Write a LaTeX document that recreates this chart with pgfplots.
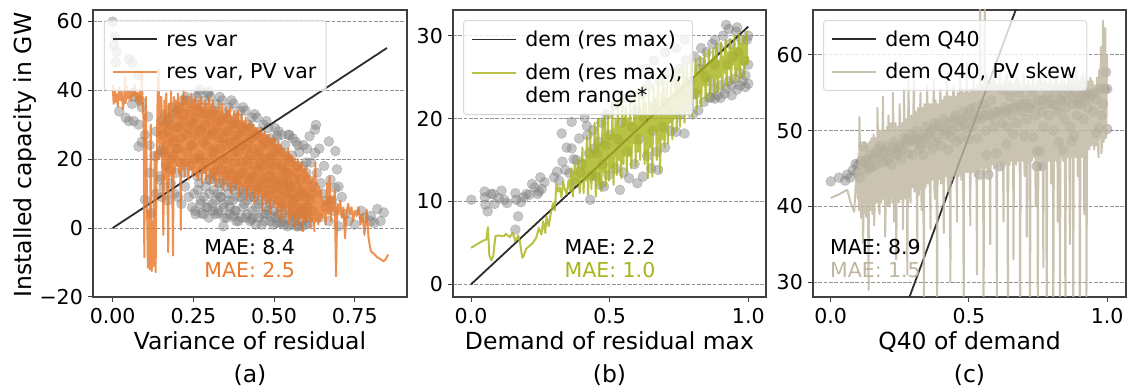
\documentclass[border=0pt]{standalone}
\usepackage{fontspec}
\setmainfont{DejaVu Sans}
\usepackage{pgfplots}
\pgfplotsset{compat=1.18}

\definecolor{resorange}{RGB}{232,121,43}
\definecolor{demgreen}{RGB}{168,180,28}
\definecolor{qbeige}{RGB}{190,182,160}
\definecolor{framegray}{RGB}{64,64,64}
\definecolor{fitblack}{RGB}{45,45,45}

\newcommand{\ticksize}{\fontsize{20.5bp}{23bp}\selectfont}
\newcommand{\labsize}{\fontsize{23.5bp}{28bp}\selectfont}

\pgfplotsset{
  panel/.style={
    scale only axis, anchor=south west, height=287bp,
    clip marker paths=true,
    axis line style={framegray, line width=1.2bp},
    tick align=outside, tick pos=left,
    major tick length=5bp, tick style={framegray, line width=1bp},
    ymajorgrids,
    major grid style={gray!85, line width=0.8bp, dash pattern=on 3.7bp off 1.6bp},
    ticklabel style={font=\ticksize, inner sep=0pt},
    xticklabel style={anchor=north}, xticklabel shift=6bp,
    yticklabel style={anchor=east}, yticklabel shift=5bp,
    legend cell align=left,
    legend image code/.code={\draw[##1, line width=1.8bp] (0bp,0bp) -- (44bp,0bp);},
    legend style={anchor=north west, draw=gray!30, line width=1bp, fill=white,
      fill opacity=0.8, text opacity=1, draw opacity=1, rounded corners=3bp,
      font=\ticksize, inner xsep=8bp, inner ysep=8.5bp, row sep=12bp, column sep=6bp},
  },
  onelinelegend/.style={legend style={cells={anchor=west, text height=15bp, text depth=4bp}}},
  twolinesample/.style={legend image code/.code={\draw[##1, line width=1.8bp] (0bp,11.5bp) -- (44bp,11.5bp);}},
  scat/.style={only marks, mark=*, mark size=5bp, forget plot,
    mark options={fill=gray, draw=gray, fill opacity=0.45, draw opacity=0.45}},
  fitline/.style={fitblack, line width=1.8bp},
  noisy/.style={line width=2bp, line join=round, draw opacity=0.82},
}

\begin{document}
\begin{tikzpicture}
\useasboundingbox (0bp,0bp) rectangle (1133bp,391bp);

% ---------------- (a) variance of residual ----------------
\begin{axis}[panel, onelinelegend, at={(93bp,94bp)}, width=314bp,
  xmin=-0.061, xmax=0.912, ymin=-20, ymax=63.2,
  xtick={0,0.25,0.5,0.75}, xticklabels={0.00,0.25,0.50,0.75},
  ytick={-20,0,20,40,60}, yticklabels={−20,0,20,40,60},
  legend style={at={(0.035,0.965)}}]
\addplot[scat] coordinates {
(0.000,59.8)(0.007,55.5)(0.004,53.0)(0.012,51.0)(0.010,48.0)(0.050,49.0)(0.060,48.0)(0.080,44.4)
(0.020,33.8)(0.050,31.0)(0.080,30.0)(0.080,23.6)(0.115,24.0)(0.110,32.3)(0.130,20.9)(0.115,16.0)
(0.100,8.2)(0.120,4.3)(0.135,10.0)(0.146,15.0)(0.150,22.6)(0.135,28.0)(0.170,31.0)(0.200,34.0)
(0.230,37.0)(0.270,40.1)(0.296,39.5)(0.274,4.3)(0.296,6.0)(0.327,4.3)(0.343,0.5)(0.374,3.5)
(0.430,2.5)(0.490,3.5)(0.520,1.5)(0.570,0.5)(0.610,1.5)(0.660,6.0)(0.710,9.0)(0.720,4.0)
(0.770,5.0)(0.800,3.5)(0.810,1.5)(0.800,2.0)(0.700,0.5)(0.630,29.9)(0.627,28.5)(0.627,21.8)
(0.640,23.0)(0.690,22.3)(0.670,25.1)(0.610,26.6)(0.575,24.0)(0.545,27.0)(0.510,26.6)(0.600,16.0)
(0.550,12.0)(0.690,11.6)(0.700,12.0)(0.060,36.0)(0.070,38.0)(0.085,37.0)(0.090,35.0)(0.065,31.0)
(0.040,32.0)(0.090,25.0)(0.100,27.0)(0.620,5.0)(0.640,3.0)(0.650,10.0)(0.670,2.0)(0.680,8.0)
(0.730,2.0)(0.750,1.0)(0.780,3.0)(0.830,2.0)(0.840,4.5)(0.820,5.5)
(0.150,31)(0.154,22)(0.147,14)(0.152,9)(0.161,30)(0.165,18)(0.158,12)(0.163,33)
(0.172,28)(0.176,17)(0.169,8)(0.174,32)(0.183,35)(0.187,21)(0.180,13)(0.185,26)
(0.194,33)(0.198,23)(0.191,10)(0.196,16)(0.205,29)(0.209,19)(0.202,9)(0.207,35)
(0.216,31)(0.220,16)(0.213,7)(0.218,37)(0.227,38)(0.231,22)(0.224,12)(0.229,27)
(0.238,34)(0.242,24)(0.235,9)(0.240,18)(0.249,30)(0.253,20)(0.246,6)(0.251,36)
(0.258,32)(0.262,15)(0.255,5)(0.260,38)(0.267,39)(0.271,21)(0.264,11)(0.269,28)
(0.276,35)(0.280,25)(0.273,8)(0.278,17)(0.285,30)(0.289,19)(0.282,4)(0.287,37)
(0.294,33)(0.298,14)(0.291,6)(0.296,39)(0.303,38)(0.307,22)(0.300,10)(0.305,27)
(0.312,34)(0.316,23)(0.309,7)(0.314,16)(0.321,29)(0.325,18)(0.318,4)(0.323,36)
(0.330,31)(0.334,13)(0.327,5)(0.332,38)(0.339,37)(0.343,20)(0.336,9)(0.341,26)
(0.348,33)(0.352,24)(0.345,6)(0.350,15)(0.357,28)(0.361,17)(0.354,3)(0.359,35)
(0.366,30)(0.370,12)(0.363,4)(0.368,37)(0.375,36)(0.379,19)(0.372,8)(0.377,25)
(0.384,32)(0.388,22)(0.381,5)(0.386,14)(0.393,27)(0.397,16)(0.390,2)(0.395,34)
(0.402,29)(0.406,11)(0.399,3)(0.404,35)(0.411,34)(0.415,18)(0.408,7)(0.413,23)
(0.420,30)(0.424,21)(0.417,4)(0.422,13)(0.429,26)(0.433,15)(0.426,2)(0.431,32)
(0.438,27)(0.442,10)(0.435,3)(0.440,33)(0.447,32)(0.451,17)(0.444,6)(0.449,21)
(0.456,28)(0.460,19)(0.453,3)(0.458,12)(0.465,24)(0.469,14)(0.462,1)(0.467,30)
(0.474,25)(0.478,9)(0.471,2)(0.476,31)(0.483,29)(0.487,15)(0.480,5)(0.485,20)
(0.492,26)(0.496,18)(0.489,2)(0.494,11)(0.501,22)(0.505,13)(0.498,1)(0.503,29)
(0.512,23)(0.516,8)(0.509,1.5)(0.514,28)(0.523,27)(0.527,14)(0.520,4)(0.525,18)
(0.534,24)(0.538,16)(0.531,1)(0.536,10)(0.545,20)(0.549,12)(0.542,0.5)(0.547,27)
(0.556,21)(0.560,7)(0.553,1)(0.558,26)(0.567,25)(0.571,12)(0.564,3)(0.569,16)
(0.578,22)(0.582,14)(0.575,0.5)(0.580,9)(0.589,18)(0.593,10)(0.586,0.5)(0.591,24)
(0.600,19)(0.604,6)(0.597,1)(0.602,23)
(0.252,10)(0.257,4)(0.268,13)(0.272,7)(0.283,9)(0.288,12)(0.298,3)(0.302,14)
(0.313,11)(0.318,8)(0.328,13)(0.333,9)(0.343,7)(0.348,12)(0.358,10)(0.363,6)
(0.373,13)(0.378,5)(0.388,9)(0.392,12)(0.403,6)(0.408,10)(0.418,8)(0.423,11)
(0.433,5)(0.438,9)(0.448,12)(0.453,7)(0.463,4)(0.468,10)(0.478,6)(0.483,11)
(0.493,8)(0.498,5)(0.508,10)(0.513,4)(0.523,7)(0.528,2)(0.538,6)(0.543,9)
(0.553,4)(0.558,8)(0.568,3)(0.573,6)(0.583,5)(0.588,2)(0.598,4)
(0.305,16)(0.311,5)(0.319,15)(0.326,10)(0.337,17)(0.346,3)(0.352,14)(0.361,8)
(0.369,16)(0.376,11)(0.383,2)(0.389,15)(0.398,9)(0.405,16)(0.412,3)(0.421,14)
(0.428,9)(0.436,15)(0.443,1)(0.450,13)(0.459,8)(0.466,15)(0.473,4)(0.481,13)
(0.488,7)(0.495,14)(0.504,3)(0.511,12)(0.518,6)(0.526,11)(0.533,3)(0.541,13)
(0.548,5)(0.555,10)(0.562,2)(0.570,9)(0.577,4)(0.585,11)(0.592,6)(0.599,9)
(0.606,3)(0.612,8)(0.618,12)(0.605,14)(0.615,19)(0.622,10)(0.633,16)(0.645,13)
(0.655,18)(0.662,8)(0.675,14)(0.685,5)(0.695,17)
(0.156,27)(0.166,24)(0.178,30)(0.189,25)(0.199,29)(0.211,26)(0.221,33)(0.233,29)
(0.244,31)(0.255,27)(0.265,34)(0.275,29)(0.284,33)(0.292,27)(0.301,31)(0.310,28)
(0.319,33)(0.328,26)(0.337,31)(0.346,28)(0.355,32)(0.364,25)(0.373,30)(0.382,27)
(0.391,30)(0.400,24)(0.409,28)(0.418,25)(0.427,29)(0.436,23)(0.445,27)(0.454,22)
(0.463,26)(0.472,20)(0.481,24)(0.490,21)(0.499,25)(0.508,19)(0.517,22)(0.526,17)
(0.535,21)(0.544,16)(0.553,19)(0.562,14)(0.571,18)
(0.160,22)(0.182,20)(0.203,23)(0.225,19)(0.247,24)(0.268,20)(0.290,24)(0.312,21)
(0.333,23)(0.355,20)(0.377,22)(0.398,19)(0.420,20)(0.441,18)(0.463,18)(0.485,17)
(0.506,15)(0.528,13)
};
\addplot[fitline] coordinates {(0,0) (0.85,52.2)};
\addlegendentry{res var}
\addplot[noisy, resorange] coordinates {
(0.000,41.5)(0.003,36.0)(0.006,40.2)(0.009,36.5)(0.012,38.8)(0.016,35.2)(0.020,40.8)(0.024,37.0)
(0.028,39.5)(0.032,34.5)(0.036,38.0)(0.038,44.0)(0.040,36.2)(0.044,41.0)(0.048,37.5)(0.052,39.8)
(0.056,36.8)(0.060,40.5)(0.064,38.2)(0.068,41.5)(0.072,37.0)(0.076,39.2)(0.080,35.5)(0.084,40.0)
(0.088,36.3)(0.090,45.0)(0.092,38.5)
(0.096,30.0)(0.098,-8.5)(0.100,24.0)(0.103,38.0)(0.106,10.0)(0.109,-11.5)(0.112,5.0)(0.115,-12.0)
(0.118,30.0)(0.121,-12.5)(0.124,2.0)(0.127,-11.0)(0.130,22.0)(0.133,-12.8)(0.136,15.0)(0.139,37.0)
(0.142,46.0)(0.145,20.0)(0.148,38.0)
(0.151,38)(0.154,15)(0.157,-2)(0.160,37)(0.163,14)(0.166,39)(0.169,17)(0.172,-7)(0.175,36)
(0.178,15)(0.181,40)(0.184,17)(0.187,-8)(0.190,38)(0.193,16)(0.196,37)(0.199,18)
(0.202,39)(0.205,16)(0.208,36)(0.211,-0.5)(0.214,38)(0.217,17)(0.220,40)(0.223,15)(0.226,37)
(0.229,18)(0.232,38)(0.235,14)(0.238,36)(0.241,17)(0.244,39)(0.247,15)(0.250,37)
(0.253,16)(0.256,38)(0.259,15)(0.262,36)(0.265,14)(0.268,37)(0.271,17)(0.274,38)(0.277,13)
(0.280,35)(0.283,16)(0.286,37)(0.289,14)(0.292,36)(0.295,17)(0.298,38)(0.301,13)
(0.304,36)(0.307,15)(0.310,37)(0.313,14)(0.316,35)(0.319,12)(0.322,34)(0.325,16)(0.328,36)
(0.331,13)(0.334,35)(0.337,15)(0.340,36)(0.343,11)(0.346,33)(0.349,14)
(0.352,35)(0.355,12)(0.358,34)(0.361,14)(0.364,35)(0.367,10)(0.370,32)(0.373,13)(0.376,34)
(0.379,11)(0.382,33)(0.385,13)(0.388,34)(0.391,9)(0.394,31)(0.397,12)(0.400,33)
(0.403,10)(0.406,31)(0.409,12)(0.412,32)(0.415,8)(0.418,30)(0.421,11)(0.424,31)(0.427,9)
(0.430,30)(0.433,11)(0.436,30)(0.439,7)(0.442,29)(0.445,10)(0.448,29)
(0.451,8)(0.454,28)(0.457,10)(0.460,29)(0.463,5)(0.466,27)(0.469,9)(0.472,28)(0.475,7)
(0.478,27)(0.481,8)(0.484,27)(0.487,4)(0.490,26)(0.493,8)(0.496,26)(0.499,6)
(0.502,26)(0.505,7)(0.508,24)(0.511,3)(0.514,25)(0.517,6)(0.520,24)(0.523,2)(0.526,23)
(0.529,5)(0.532,23)(0.535,3)(0.538,22)(0.541,6)(0.544,23)(0.547,1)(0.550,21)
(0.553,3)(0.556,21)(0.559,4)(0.562,20)(0.565,0)(0.568,19)(0.571,3)(0.574,20)(0.577,1)
(0.580,18)(0.583,3)(0.586,19)(0.589,-1)(0.592,17)(0.595,2)(0.598,18)
(0.601,2)(0.604,16)(0.607,3)(0.610,15)(0.613,0)(0.616,14)(0.619,2)(0.622,15)(0.625,-1)
(0.628,19)(0.631,2)(0.634,13)(0.637,1)(0.640,12)(0.643,2)(0.646,11)(0.650,3)
(0.655,8)(0.660,1)(0.664,13)(0.668,4)(0.672,15)(0.676,2)(0.680,9)(0.684,5)(0.688,11)
(0.692,-14)(0.696,7)(0.700,4)(0.705,8)(0.710,3)(0.715,6)(0.720,-3)(0.725,5)(0.730,7)
(0.735,4)(0.740,6)(0.745,2)(0.750,5)(0.756,3.5)(0.762,6)(0.768,1)(0.774,4)(0.780,-2)
(0.787,5.3)(0.793,-3)(0.800,-6.8)(0.810,-7.5)(0.820,-8.5)(0.830,-9)(0.839,-9.7)(0.846,-9)(0.854,-7.7)
};
\addlegendentry{res var, PV var}
\node[anchor=west, inner sep=0pt, font=\ticksize, text=black] at (rel axis cs:0.354,0.175) {MAE: 8.4};
\node[anchor=west, inner sep=0pt, font=\ticksize, text=resorange] at (rel axis cs:0.354,0.094) {MAE: 2.5};
\end{axis}

% ---------------- (b) demand of residual max ----------------
\begin{axis}[panel, at={(453bp,94bp)}, width=313bp,
  xmin=-0.065, xmax=1.064, ymin=-1.53, ymax=33.1,
  xtick={0,0.5,1}, xticklabels={0.0,0.5,1.0},
  ytick={0,10,20,30}, yticklabels={0,10,20,30},
  legend style={at={(0.032,0.965)}, cells={anchor=west, align=left}}]
\addplot[scat] coordinates {
(0.001,10.2)(0.049,11.2)(0.050,10.5)(0.052,9.6)(0.060,8.8)(0.072,10.9)(0.080,10.9)(0.085,9.7)
(0.110,11.3)(0.120,10.2)(0.160,11.0)(0.163,10.2)(0.180,9.9)(0.190,10.5)(0.200,10.9)(0.220,12.1)
(0.230,11.7)(0.240,10.9)(0.170,8.2)(0.160,6.6)(0.250,12.9)(0.130,9.8)(0.100,10.4)(0.245,11.2)
(0.255,11.5)(0.265,12.3)(0.210,10.8)
(0.300,12.9)(0.310,13.6)(0.318,12.5)(0.327,18.2)(0.330,14.8)(0.340,13.8)(0.345,16.5)(0.355,13.4)
(0.363,19.6)(0.363,16.4)(0.370,15.1)(0.375,12.2)(0.380,15.0)(0.390,17.6)(0.395,13.5)(0.400,14.5)
(0.410,20.1)(0.418,19.1)(0.420,18.0)(0.425,15.8)(0.430,10.2)(0.435,13.1)(0.440,18.6)(0.445,16.4)
(0.450,13.0)(0.455,15.8)(0.460,17.2)(0.465,12.0)(0.470,19.5)(0.475,14.5)(0.480,11.8)(0.485,16.8)
(0.490,20.5)(0.495,13.2)(0.500,18.0)
(0.520,21.5)(0.520,14.0)(0.530,17.5)(0.537,11.4)(0.545,19.5)(0.550,13.5)(0.560,22.5)(0.565,16.0)
(0.570,12.8)(0.580,19.0)(0.590,14.5)(0.595,21.0)(0.600,12.2)(0.605,17.5)(0.615,23.0)(0.620,13.0)
(0.625,20.0)(0.635,15.5)(0.640,24.0)(0.650,14.0)(0.655,18.5)(0.660,21.5)(0.670,16.0)(0.675,13.8)
(0.680,24.5)(0.690,19.0)(0.700,16.5)(0.705,22.0)(0.710,25.5)(0.720,18.5)(0.725,21.0)(0.735,24.5)
(0.740,18.4)(0.750,26.0)(0.755,20.5)(0.760,23.0)(0.770,18.2)(0.775,27.0)(0.780,21.5)(0.790,24.5)
(0.800,20.5)(0.805,27.5)(0.810,23.0)(0.820,21.0)(0.825,26.0)(0.830,28.5)(0.840,22.0)(0.845,25.0)
(0.850,28.0)(0.860,24.5)(0.865,22.5)(0.870,29.0)(0.875,23.5)(0.880,26.5)(0.890,22.8)(0.895,28.5)
(0.900,24.0)(0.910,30.0)(0.915,23.0)(0.920,31.3)(0.925,26.5)(0.930,24.5)(0.935,29.0)(0.940,22.8)
(0.945,27.5)(0.950,24.8)(0.955,30.5)(0.960,23.5)(0.965,28.0)(0.970,25.5)(0.975,29.5)(0.980,24.5)
(0.985,27.0)(0.990,25.2)(0.995,29.5)(1.000,24.2)(1.000,26.5)(1.000,30.0)(0.930,30.8)(0.960,31.0)
(0.880,29.5)(0.830,26.8)(0.860,22.6)(0.880,22.4)(0.900,22.5)(0.920,23.6)(0.940,24.0)(0.970,24.0)
(0.990,23.8)(0.660,27.0)(0.700,28.0)(0.740,28.5)(0.770,29.5)(0.630,26.0)
};
\addplot[fitline] coordinates {(0,0) (1,31.1)};
\addlegendentry{dem (res max)}
\addplot[noisy, demgreen, twolinesample] coordinates {
(0.000,4.4)(0.020,4.8)(0.040,5.2)(0.055,5.4)(0.061,6.9)(0.066,3.5)(0.073,2.9)(0.080,3.4)
(0.088,5.8)(0.097,5.9)(0.120,5.8)(0.125,6.1)(0.140,5.7)(0.150,6.2)(0.160,5.2)(0.170,5.9)
(0.177,5.0)(0.185,3.2)(0.190,3.4)(0.199,4.3)(0.210,4.6)(0.223,5.0)(0.235,5.6)(0.245,6.8)
(0.254,6.0)(0.260,7.6)(0.268,6.2)(0.272,8.2)(0.280,7.0)(0.288,8.6)(0.296,9.8)(0.302,8.9)
(0.308,12.1)(0.314,11.2)(0.320,11.7)(0.326,10.5)(0.332,12.4)(0.338,11.5)(0.345,10.9)(0.352,12.6)
(0.358,11.2)(0.362,14.0)(0.367,10.6)(0.374,14.5)(0.380,12.0)(0.386,15.2)(0.392,11.0)(0.398,14.0)
(0.402,16.5)(0.406,11.0)(0.410,15.0)(0.414,12.5)(0.418,17.8)(0.422,10.8)(0.426,14.2)(0.430,18.5)
(0.434,11.5)(0.438,16.0)(0.442,12.8)(0.446,19.5)(0.450,10.6)(0.454,15.5)(0.458,20.0)(0.462,12.0)
(0.466,17.0)(0.470,11.2)(0.474,19.8)(0.478,13.5)(0.482,21.0)(0.486,11.8)(0.490,16.5)(0.494,20.5)
(0.498,12.5)(0.502,18.0)(0.506,14.0)(0.510,21.8)(0.514,12.0)(0.518,17.5)(0.522,20.0)(0.526,13.2)
(0.530,22.0)(0.534,15.0)(0.538,19.0)(0.542,12.8)(0.546,22.5)(0.550,14.5)(0.554,18.5)(0.558,21.5)
(0.562,13.5)(0.566,20.0)(0.570,15.5)(0.574,23.0)(0.578,14.0)(0.582,19.5)(0.586,17.0)(0.590,23.2)
(0.594,14.2)(0.598,20.5)(0.602,16.0)(0.606,23.5)(0.610,15.0)(0.614,21.0)(0.618,18.0)(0.622,24.0)
(0.626,14.5)(0.630,22.0)(0.634,17.5)(0.638,12.8)(0.642,23.5)(0.646,16.5)(0.650,21.5)(0.654,13.0)
(0.658,24.0)(0.662,18.5)(0.666,22.5)(0.670,15.0)(0.674,24.5)(0.678,19.0)(0.682,13.5)(0.686,23.0)
(0.690,17.5)(0.694,25.0)(0.698,16.5)(0.702,21.0)(0.706,24.5)(0.710,17.0)(0.714,22.5)(0.718,19.5)
(0.722,25.2)(0.726,17.5)(0.730,23.0)(0.734,20.0)(0.738,25.5)(0.742,18.5)(0.746,22.5)(0.750,26.0)
(0.754,19.0)(0.758,24.0)(0.762,21.0)(0.766,26.2)(0.770,19.5)(0.774,23.5)(0.778,26.5)(0.782,20.5)
(0.786,24.5)(0.790,22.0)(0.794,27.0)(0.798,20.2)(0.802,25.0)(0.806,22.5)(0.810,27.2)(0.814,21.0)
(0.818,25.5)(0.822,23.0)(0.826,27.5)(0.830,21.5)(0.834,26.0)(0.838,24.0)(0.842,28.0)(0.846,22.0)
(0.850,26.5)(0.854,24.5)(0.858,28.3)(0.862,22.5)(0.866,27.0)(0.870,25.0)(0.874,28.5)(0.878,23.0)
(0.882,26.5)(0.886,29.0)(0.890,23.2)(0.894,27.0)(0.898,25.0)(0.902,29.2)(0.906,23.5)(0.910,27.5)
(0.914,25.5)(0.918,29.5)(0.922,24.0)(0.926,28.0)(0.930,26.0)(0.934,29.6)(0.938,24.2)(0.942,28.5)
(0.946,26.5)(0.950,30.0)(0.954,24.5)(0.958,28.5)(0.962,26.0)(0.966,30.2)(0.970,24.8)(0.974,29.0)
(0.978,26.5)(0.982,30.0)(0.986,25.0)(0.990,28.0)(0.994,30.5)(0.997,26.5)(1.000,27.5)
};
\addlegendentry{dem (res max),\\dem range*}
\node[anchor=west, inner sep=0pt, font=\ticksize, text=black] at (rel axis cs:0.356,0.175) {MAE: 2.2};
\node[anchor=west, inner sep=0pt, font=\ticksize, text=demgreen] at (rel axis cs:0.356,0.094) {MAE: 1.0};
\end{axis}

% ---------------- (c) Q40 of demand ----------------
\begin{axis}[panel, onelinelegend, at={(813bp,94bp)}, width=313bp,
  xmin=-0.064, xmax=1.068, ymin=28.06, ymax=65.9,
  xtick={0,0.5,1}, xticklabels={0.0,0.5,1.0},
  ytick={30,40,50,60}, yticklabels={30,40,50,60},
  legend style={at={(0.032,0.965)}}]
\addplot[scat] coordinates {
(0.000,43.3)(0.052,43.4)(0.060,44.2)(0.070,43.8)(0.080,44.8)(0.094,44.5)(0.100,45.5)(0.105,43.8)
(0.110,46.0)(0.118,47.9)(0.125,44.8)(0.130,46.2)(0.142,46.8)(0.150,45.2)(0.160,47.0)(0.165,45.5)
(0.175,46.5)(0.180,48.0)(0.190,45.8)(0.200,47.9)(0.205,46.0)(0.215,47.3)(0.220,45.5)(0.230,48.5)
(0.240,46.8)(0.250,48.0)(0.255,46.2)(0.265,49.0)(0.270,48.3)(0.280,47.0)(0.290,49.5)(0.295,46.8)
(0.305,48.5)(0.310,50.0)(0.320,47.5)(0.330,49.2)(0.335,46.8)(0.345,50.5)(0.350,48.2)(0.360,49.8)
(0.370,47.5)(0.375,51.0)(0.385,49.0)(0.390,50.8)(0.400,48.0)(0.410,51.5)(0.415,49.5)(0.425,47.5)
(0.430,51.0)(0.440,50.0)(0.450,52.0)(0.455,48.5)(0.465,51.2)(0.470,49.0)(0.480,52.5)(0.490,50.2)
(0.500,48.8)(0.505,52.8)(0.515,50.5)(0.520,53.0)(0.530,49.0)(0.540,44.2)(0.545,51.5)(0.550,53.5)
(0.560,50.0)(0.564,46.8)(0.570,44.2)(0.575,52.0)(0.580,54.0)(0.590,50.5)(0.600,47.0)(0.605,52.5)
(0.612,45.3)(0.620,51.0)(0.625,55.3)(0.630,53.0)(0.636,48.2)(0.640,50.5)(0.650,54.5)(0.655,52.0)
(0.660,49.5)(0.670,53.5)(0.675,51.0)(0.680,55.0)(0.690,52.5)(0.700,49.3)(0.705,54.0)(0.710,51.5)
(0.720,53.0)(0.730,55.0)(0.733,49.1)(0.740,52.0)(0.745,47.3)(0.745,45.3)(0.750,54.0)(0.757,47.3)
(0.763,45.3)(0.765,52.5)(0.770,50.5)(0.780,54.5)(0.790,52.0)(0.800,53.5)(0.805,50.0)(0.810,55.0)
(0.820,52.5)(0.825,48.5)(0.830,54.0)(0.840,47.5)(0.840,54.6)(0.845,51.5)(0.850,53.0)(0.860,55.5)
(0.865,50.5)(0.870,48.6)(0.875,53.5)(0.880,49.3)(0.885,55.0)(0.890,52.0)(0.900,54.0)(0.910,54.6)
(0.915,51.5)(0.920,55.0)(0.930,53.0)(0.945,54.8)(0.950,52.5)(0.960,54.1)(0.960,49.7)(0.970,50.4)
(0.975,55.5)(0.980,52.0)(0.990,55.5)(0.995,57.7)(1.000,55.5)(1.000,50.2)(0.985,53.5)
(0.120,45.8)(0.140,45.0)(0.170,47.5)(0.210,46.3)(0.235,47.0)(0.260,47.5)(0.285,48.6)(0.315,48.8)
(0.340,49.0)(0.365,50.2)(0.380,48.5)(0.420,50.2)(0.460,50.5)(0.475,51.5)(0.510,51.5)(0.535,52.0)
(0.565,52.8)(0.585,51.8)(0.615,52.2)(0.645,52.8)(0.685,53.2)(0.715,53.0)(0.755,53.2)(0.785,53.5)
(0.815,53.2)(0.855,54.0)(0.895,53.5)(0.935,54.2)
(0.030,43.8)(0.090,45.6)(0.135,46.0)(0.155,46.5)(0.185,46.8)(0.195,47.2)(0.225,47.8)(0.245,47.5)
(0.275,48.8)(0.300,49.0)(0.325,48.0)(0.355,49.5)(0.385,50.5)(0.405,50.0)(0.435,49.2)(0.445,51.5)
(0.485,50.8)(0.495,52.0)(0.525,51.5)(0.555,52.0)(0.595,52.5)(0.635,52.5)(0.665,53.0)(0.695,53.5)
(0.725,53.5)(0.765,54.0)(0.795,54.0)(0.835,54.0)(0.875,54.5)(0.905,53.5)(0.925,54.5)(0.955,55.0)
};
\addplot[fitline] coordinates {(0,0) (1,98.5)};
\addlegendentry{dem Q40}
\addplot[noisy, qbeige] coordinates {
(0.000,41.1)(0.030,41.6)(0.060,42.2)(0.072,40.5)(0.085,39.3)(0.090,42.5)(0.094,45.0)(0.098,41.0)
(0.100,44.0)(0.102,39.5)(0.104,51.8)(0.106,47.5)(0.108,40.0)(0.110,38.5)(0.112,45.0)(0.114,48.0)
(0.117,35.2)(0.119,40.0)(0.121,46.0)(0.123,48.5)(0.125,42.0)(0.127,39.0)(0.129,38.6)(0.131,48.0)
(0.133,45.5)(0.135,40.5)(0.137,29.0)(0.139,48.5)(0.141,44.5)(0.143,39.5)(0.145,47.5)(0.147,49.0)
(0.149,41.0)(0.151,39.0)(0.153,46.5)(0.155,49.5)(0.157,37.5)(0.159,40.0)(0.161,48.5)(0.163,49.0)
(0.165,43.5)(0.167,40.5)(0.169,53.0)(0.171,49.5)(0.173,44.0)(0.175,39.5)(0.177,39.0)(0.179,50.0)
(0.181,47.0)(0.183,40.5)(0.185,42.5)(0.187,49.5)(0.189,54.5)(0.191,41.0)(0.193,45.0)(0.195,50.0)
(0.197,36.0)(0.199,40.5)(0.201,47.5)(0.203,50.5)(0.205,43.0)(0.207,40.0)(0.209,52.0)(0.211,50.0)
(0.213,40.0)(0.215,41.5)(0.217,48.0)(0.219,51.0)(0.221,44.0)(0.223,40.5)(0.225,55.0)(0.227,50.5)
(0.229,38.0)(0.231,41.0)(0.233,47.0)(0.235,51.0)(0.237,33.0)(0.239,41.5)(0.241,49.0)(0.243,50.5)
(0.245,45.0)(0.247,40.5)(0.249,53.5)(0.251,51.5)(0.253,41.0)(0.255,41.0)(0.257,48.5)(0.259,51.0)
(0.261,37.0)(0.263,42.0)(0.265,55.5)(0.267,51.5)(0.269,44.5)(0.271,41.0)(0.273,50.0)(0.275,51.5)
(0.277,31.0)(0.279,42.0)(0.281,57.0)(0.283,52.0)(0.285,46.0)(0.287,41.5)(0.289,40.5)(0.291,52.0)
(0.293,51.0)(0.295,42.5)(0.297,45.5)(0.299,52.5)(0.301,57.5)(0.303,42.0)(0.305,42.0)(0.307,52.5)
(0.309,49.5)(0.311,42.5)(0.313,34.0)(0.315,53.0)(0.317,50.5)(0.319,41.5)(0.321,46.0)(0.323,52.5)
(0.325,55.0)(0.327,43.0)(0.329,39.5)(0.331,53.0)(0.333,49.0)(0.335,42.0)(0.337,28.0)(0.339,53.5)
(0.341,51.5)(0.343,42.5)(0.345,46.5)(0.347,53.0)(0.349,56.0)(0.351,43.0)(0.353,43.0)(0.355,53.5)
(0.357,50.0)(0.359,42.0)(0.361,37.0)(0.363,53.5)(0.365,52.0)(0.367,43.5)(0.369,47.0)(0.371,53.0)
(0.373,56.5)(0.375,42.5)(0.377,41.0)(0.379,54.0)(0.381,50.5)(0.383,43.0)(0.385,25.0)(0.387,53.5)
(0.389,52.0)(0.391,43.5)(0.393,47.5)(0.395,54.0)(0.397,55.5)(0.399,43.0)(0.401,44.0)(0.403,54.0)
(0.405,51.0)(0.407,43.5)(0.409,36.5)(0.411,54.5)(0.413,53.0)(0.415,44.0)(0.417,48.0)(0.419,54.0)
(0.421,57.0)(0.423,43.5)(0.425,42.0)(0.427,54.5)(0.429,51.5)(0.431,44.0)(0.433,30.0)(0.435,54.5)
(0.437,53.5)(0.439,43.5)(0.441,48.5)(0.443,55.0)(0.445,56.0)(0.447,44.0)(0.449,45.0)(0.451,54.5)
(0.453,52.0)(0.455,44.5)(0.457,38.0)(0.459,55.0)(0.461,54.0)(0.463,44.0)(0.465,49.0)(0.467,55.0)
(0.469,57.5)(0.471,44.5)(0.473,43.5)(0.475,55.5)(0.477,52.5)(0.479,44.0)(0.481,26.0)(0.483,55.0)
(0.485,54.0)(0.487,44.5)(0.489,49.5)(0.491,55.5)(0.493,59.0)(0.495,44.5)(0.497,45.5)(0.499,55.0)
(0.501,52.5)(0.503,45.0)(0.505,37.5)(0.507,55.5)(0.509,54.5)(0.511,44.5)(0.513,50.0)(0.515,55.0)
(0.517,57.0)(0.519,45.0)(0.521,44.0)(0.523,55.5)(0.525,53.0)(0.527,45.0)(0.529,31.0)(0.531,56.0)
(0.533,55.0)(0.535,44.5)(0.537,50.0)(0.539,55.5)(0.541,70.0)(0.543,45.0)(0.545,46.0)(0.547,56.0)
(0.549,53.5)(0.551,45.5)(0.553,24.0)(0.555,55.5)(0.557,68.0)(0.559,45.0)(0.561,50.5)(0.563,56.0)
(0.565,57.5)(0.567,45.5)(0.569,44.5)(0.571,56.0)(0.573,53.5)(0.575,45.0)(0.577,35.0)(0.579,56.5)
(0.581,55.0)(0.583,45.5)(0.585,51.0)(0.587,56.0)(0.589,57.0)(0.591,45.0)(0.593,46.0)(0.595,56.5)
(0.597,54.0)(0.599,45.5)(0.601,27.0)(0.603,56.0)(0.605,55.5)(0.607,46.0)(0.609,51.0)(0.611,56.5)
(0.613,58.0)(0.615,45.5)(0.617,45.0)(0.619,56.0)(0.621,54.0)(0.623,46.0)(0.625,38.0)(0.627,56.5)
(0.629,56.0)(0.631,45.5)(0.633,51.5)(0.635,56.0)(0.637,57.5)(0.639,46.0)(0.641,25.0)(0.643,56.5)
(0.645,54.5)(0.647,45.5)(0.649,47.0)(0.651,56.5)(0.653,56.0)(0.655,46.0)(0.657,51.5)(0.659,56.0)
(0.661,33.0)(0.663,46.5)(0.665,55.0)(0.667,56.5)(0.669,49.0)(0.671,45.5)(0.673,57.0)(0.675,56.0)
(0.677,46.5)(0.679,46.0)(0.681,54.5)(0.683,56.5)(0.685,22.0)(0.687,46.5)(0.689,56.0)(0.691,56.0)
(0.693,52.0)(0.695,46.0)(0.697,57.5)(0.699,56.5)(0.701,44.0)(0.703,46.0)(0.705,54.5)(0.707,56.0)
(0.709,36.0)(0.711,46.5)(0.713,56.0)(0.715,56.5)(0.717,52.0)(0.719,45.5)(0.721,23.0)(0.723,56.0)
(0.725,55.0)(0.727,46.0)(0.729,48.0)(0.731,56.5)(0.733,57.0)(0.735,46.5)(0.737,52.5)(0.739,56.0)
(0.741,40.0)(0.743,46.0)(0.745,55.5)(0.747,56.5)(0.749,26.0)(0.751,46.5)(0.753,54.0)(0.755,56.0)
(0.757,57.5)(0.759,46.0)(0.761,47.0)(0.763,56.5)(0.765,55.0)(0.767,46.5)(0.769,32.0)(0.771,56.0)
(0.773,56.5)(0.775,46.0)(0.777,52.5)(0.779,56.5)(0.781,24.0)(0.783,46.5)(0.785,55.0)(0.787,56.0)
(0.789,49.0)(0.791,46.0)(0.793,57.0)(0.795,56.5)(0.797,43.0)(0.799,46.5)(0.801,55.5)(0.803,56.0)
(0.805,22.0)(0.807,46.5)(0.809,56.0)(0.811,56.5)(0.813,52.5)(0.815,46.0)(0.817,58.0)(0.819,56.5)
(0.821,38.0)(0.823,46.5)(0.825,55.0)(0.827,56.0)(0.829,27.0)(0.831,47.0)(0.833,56.5)(0.835,56.5)
(0.837,53.0)(0.839,46.5)(0.841,46.0)(0.843,56.5)(0.845,56.0)(0.847,47.0)(0.849,21.0)(0.851,56.0)
(0.853,55.5)(0.855,46.5)(0.857,51.0)(0.859,56.5)(0.861,57.5)(0.863,47.0)(0.865,35.0)(0.867,56.5)
(0.869,56.0)(0.871,46.5)(0.873,53.0)(0.875,57.0)(0.877,25.0)(0.879,47.0)(0.881,56.5)(0.883,56.5)
(0.885,50.0)(0.887,46.5)(0.889,58.0)(0.891,57.0)(0.893,44.0)(0.895,47.0)(0.897,55.5)(0.899,56.5)
(0.901,23.0)(0.903,47.0)(0.905,56.0)(0.907,57.0)(0.909,53.0)(0.911,46.5)(0.913,57.5)(0.915,56.5)
(0.917,39.0)(0.919,47.0)(0.921,55.5)(0.923,57.0)(0.925,28.0)(0.927,47.0)(0.929,56.0)(0.931,56.5)
(0.933,53.5)(0.935,47.5)(0.937,49.0)(0.939,57.0)(0.941,56.5)(0.943,48.0)(0.945,51.0)(0.947,56.5)
(0.949,55.0)(0.951,48.5)(0.953,47.5)(0.955,56.0)(0.957,54.0)(0.959,48.0)(0.961,49.5)(0.963,57.0)
(0.965,56.0)(0.967,47.5)(0.969,46.5)(0.971,58.0)(0.973,53.5)(0.975,49.0)(0.977,61.0)(0.979,47.0)
(0.981,48.0)(0.983,59.0)(0.985,64.5)(0.987,48.5)(0.989,50.0)(0.991,62.0)(0.993,63.5)(0.995,49.0)
(0.997,49.5)(0.999,60.0)(1.000,58.0)
};
\addlegendentry{dem Q40, PV skew}
\node[anchor=west, inner sep=0pt, font=\ticksize, text=black] at (rel axis cs:0.054,0.175) {MAE: 8.9};
\node[anchor=west, inner sep=0pt, font=\ticksize, text=qbeige] at (rel axis cs:0.054,0.094) {MAE: 1.5};
\end{axis}

% axis titles and panel letters
\node[rotate=90, anchor=base, font=\labsize] at (31.7bp,236bp) {Installed capacity in GW};
\node[anchor=base, font=\labsize] at (250bp,41bp) {Variance of residual};
\node[anchor=base, font=\labsize] at (609.5bp,41bp) {Demand of residual max};
\node[anchor=base, font=\labsize] at (969.5bp,41bp) {Q40 of demand};
\node[anchor=base, font=\labsize] at (250bp,9bp) {(a)};
\node[anchor=base, font=\labsize] at (609.5bp,9bp) {(b)};
\node[anchor=base, font=\labsize] at (969.5bp,9bp) {(c)};
\end{tikzpicture}
\end{document}
